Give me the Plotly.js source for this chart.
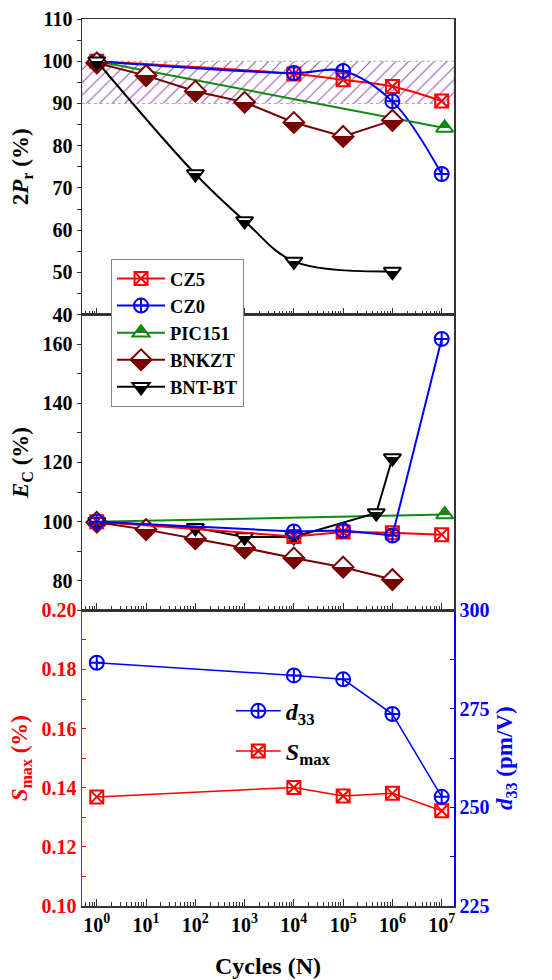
<!DOCTYPE html>
<html><head><meta charset="utf-8">
<script src="https://cdn.plot.ly/plotly-3.0.1.min.js"></script>
<style>html,body{margin:0;padding:0;background:#fff}</style>
</head><body><div id="chart" style="width:552px;height:980px"></div>
<script>
// ---- data ----
const cycles = [1, 1e4, 1e5, 1e6, 1e7];
const cyclesBNKZT = [1, 10, 100, 1e3, 1e4, 1e5, 1e6];
const cyclesBNTPr = [1, 100, 1e3, 1e4, 1e6];
const cyclesBNTEc = [1, 100, 1e3, 1e4, 4.7e5, 1e6];
const cyclesPIC = [1, 1.15e7];

const prCZ5 = [100, 97.0, 95.6, 94.0, 90.6];
const prCZ0 = [100, 97.2, 97.7, 90.5, 73.3];
const prPIC = [100, 84.2];
const prBNKZT = [99.6, 96.6, 92.9, 90.3, 85.5, 82.2, 86.0];
const prBNT = [100, 73.3, 62.2, 52.6, 50.2];

const ecCZ5 = [100, 95.0, 96.5, 96.2, 95.6];
const ecCZ0 = [100, 96.7, 97.0, 95.3, 161.8];
const ecPIC = [100, 102.4];
const ecBNKZT = [99.8, 97.3, 94.2, 91.1, 87.7, 84.6, 80.4];
const ecBNT = [100, 97.9, 94.8, 94.8, 102.9, 121.5];

const smax = [0.1369, 0.1401, 0.1372, 0.1381, 0.1322];
const d33 = [286.7, 283.5, 282.5, 273.7, 252.7];

const bandPr = [90, 100];
const xRange = [-0.3, 7.25];
const xTickVals = [1, 10, 100, 1e3, 1e4, 1e5, 1e6, 1e7];
const xTickText = ['10<sup>0</sup>','10<sup>1</sup>','10<sup>2</sup>','10<sup>3</sup>','10<sup>4</sup>','10<sup>5</sup>','10<sup>6</sup>','10<sup>7</sup>'];
const minorVals = [];
for (let e = -1; e <= 7; e++) for (let m = 2; m <= 9; m++) minorVals.push(m * Math.pow(10, e));

// ---- styles ----
const RED = '#ff0000', BLUE = '#0000ff', GREEN = '#108a10', DRED = '#7a0000', BLK = '#000000';
const FONTFAM = 'Liberation Serif';
const MS = 13;
const mk = {
  CZ5: {symbol:'square-x-open', size:MS, color:RED, line:{width:2, color:RED}},
  CZ0: {symbol:'circle-cross-open', size:MS+1, color:BLUE, line:{width:2, color:BLUE}},
  PIC: {symbol:'triangle-up', size:MS+2, color:GREEN, gradient:{type:'vertical', color:'white'}, line:{width:2, color:GREEN}},
  BNK: {symbol:'diamond', size:MS+3, color:'white', gradient:{type:'vertical', color:DRED}, line:{width:2, color:DRED}},
  BNT: {symbol:'triangle-down', size:MS+2, color:'white', gradient:{type:'vertical', color:BLK}, line:{width:2, color:BLK}}
};
// fraction of the marker height (from its top) painted with the top colour
const halfSplit = {green:[GREEN, 'top', 0.7], dred:[DRED, 'bottom', 0.47], black:[BLK, 'bottom', 0.28]};

const traces = [];
traces.push({
  x:[Math.pow(10,xRange[0]), Math.pow(10,xRange[1]), Math.pow(10,xRange[1]), Math.pow(10,xRange[0]), Math.pow(10,xRange[0])],
  y:[bandPr[0], bandPr[0], bandPr[1], bandPr[1], bandPr[0]],
  xaxis:'x3', yaxis:'y3', mode:'lines', fill:'toself',
  fillcolor:'rgba(0,0,0,0)',
  fillpattern:{shape:'/', fgcolor:'#9a50b8', bgcolor:'rgba(255,255,255,0)', size:9, solidity:0.12},
  line:{color:'#aaa', width:1, dash:'dot'}, showlegend:false, hoverinfo:'skip'
});
traces.push({x:cycles, y:prCZ5, name:'CZ5', xaxis:'x3', yaxis:'y3', mode:'lines+markers', line:{color:RED, width:2, shape:'spline'}, marker:mk.CZ5});
traces.push({x:cycles, y:prCZ0, name:'CZ0', xaxis:'x3', yaxis:'y3', mode:'lines+markers', line:{color:BLUE, width:2, shape:'spline'}, marker:mk.CZ0});
traces.push({x:cyclesPIC, y:prPIC, name:'PIC151', xaxis:'x3', yaxis:'y3', mode:'lines+markers', line:{color:GREEN, width:2}, marker:mk.PIC});
traces.push({x:cyclesBNKZT, y:prBNKZT, name:'BNKZT', xaxis:'x3', yaxis:'y3', mode:'lines+markers', line:{color:DRED, width:2}, marker:mk.BNK});
traces.push({x:cyclesBNTPr, y:prBNT, name:'BNT-BT', xaxis:'x3', yaxis:'y3', mode:'lines+markers', line:{color:BLK, width:2, shape:'spline'}, marker:mk.BNT});
traces.push({x:cyclesPIC, y:ecPIC, xaxis:'x2', yaxis:'y2', mode:'lines+markers', line:{color:GREEN, width:2}, marker:mk.PIC, showlegend:false});
traces.push({x:cyclesBNKZT, y:ecBNKZT, xaxis:'x2', yaxis:'y2', mode:'lines+markers', line:{color:DRED, width:2}, marker:mk.BNK, showlegend:false});
traces.push({x:cyclesBNTEc, y:ecBNT, xaxis:'x2', yaxis:'y2', mode:'lines+markers', line:{color:BLK, width:2}, marker:mk.BNT, showlegend:false});
traces.push({x:cycles, y:ecCZ5, xaxis:'x2', yaxis:'y2', mode:'lines+markers', line:{color:RED, width:2}, marker:mk.CZ5, showlegend:false});
traces.push({x:cycles, y:ecCZ0, xaxis:'x2', yaxis:'y2', mode:'lines+markers', line:{color:BLUE, width:2}, marker:mk.CZ0, showlegend:false});
traces.push({x:cycles, y:d33, name:'<i>d</i><sub>33</sub>', xaxis:'x', yaxis:'y4', mode:'lines+markers', line:{color:BLUE, width:1.5}, marker:mk.CZ0, legend:'legend2', legendgroup:'a'});
traces.push({x:cycles, y:smax, name:'<i>S</i><sub>max</sub>', xaxis:'x', yaxis:'y', mode:'lines+markers', line:{color:RED, width:1.5}, marker:mk.CZ5, legend:'legend2', legendgroup:'b'});

const FRAME = '#333';
function xax(anchor, labels, title) {
  return {
    type:'log', range:xRange, domain:[0,1], anchor:anchor,
    showline:true, linecolor:FRAME, linewidth:1.5, mirror:true,
    ticks:'inside', ticklen:7, tickcolor:FRAME, tickwidth:1,
    tickmode:'array', tickvals:xTickVals, ticktext:xTickText,
    showticklabels:labels, tickfont:{size:20, family:FONTFAM, color:'black', weight:'bold'},
    minor:{tickmode:'array', tickvals:minorVals, ticks:'inside', ticklen:4, tickcolor:FRAME, showgrid:false},
    showgrid:false, zeroline:false,
    title: title ? {text:title, font:{size:24, family:FONTFAM, color:'black', weight:'bold'}, standoff:22} : {text:''}
  };
}
function yax(domain, range, dtick, mdtick, col, tcol, title, extra) {
  return Object.assign({
    domain:domain, range:range, dtick:dtick, tick0:0,
    showline:true, linecolor:col, linewidth:1.5,
    ticks:'outside', ticklen:4, tickcolor:col,
    tickfont:{size:20, family:FONTFAM, color:tcol, weight:'bold'},
    minor:{dtick:mdtick, ticks:'outside', ticklen:4, tickcolor:col, showgrid:false},
    showgrid:false, zeroline:false,
    title:{text:title, font:{size:23, family:FONTFAM, color:tcol, weight:'bold'}, standoff:7}
  }, extra || {});
}

const layout = {
  width:552, height:980,
  margin:{l:82, r:98, t:19, b:74},
  paper_bgcolor:'white', plot_bgcolor:'white',
  font:{family:FONTFAM, size:19, color:'black', weight:'bold'},
  xaxis: xax('y', true, 'Cycles (N)'),
  xaxis2: xax('y2', false, ''),
  xaxis3: xax('y3', false, ''),
  yaxis3: yax([2/3, 1], [40, 110], 10, 5, FRAME, 'black', '2<i>P</i><sub>r</sub> (%)', {anchor:'x3', mirror:true}),
  yaxis2: yax([1/3, 2/3], [70, 170], 20, 10, FRAME, 'black', '<i>E</i><sub>C</sub> (%)', {anchor:'x2', mirror:true}),
  yaxis: yax([0, 1/3], [0.10, 0.20], 0.02, 0.01, RED, RED, '<i>S</i><sub>max</sub> (%)', {anchor:'x', tickformat:'.2f', ticks:'inside', minor:{dtick:0.01, ticks:'inside', ticklen:4, tickcolor:RED, showgrid:false}}),
  yaxis4: yax([0, 1/3], [225, 300], 25, 12.5, BLUE, BLUE, '<i>d</i><sub>33</sub> (pm/V)', {anchor:'x', overlaying:'y', side:'right', ticks:'inside', minor:{dtick:12.5, ticks:'inside', ticklen:4, tickcolor:BLUE, showgrid:false}}),
  legend:{x:0.078, y:0.7294, xanchor:'left', yanchor:'top', bgcolor:'white', bordercolor:'#888', borderwidth:1,
    font:{size:18.5, family:FONTFAM, color:'black', weight:'bold'}, itemwidth:48, tracegroupgap:0, traceorder:'normal'},
  legend2:{x:0.40, y:0.245, xanchor:'left', yanchor:'top', bgcolor:'rgba(0,0,0,0)', borderwidth:0,
    font:{size:24, family:FONTFAM, color:'black', weight:'bold'}, itemwidth:45, tracegroupgap:6, traceorder:'grouped'}
};

function sharpenHalfMarkers() {
  const norm = c => { const d = document.createElement('div'); d.style.color = c; document.body.appendChild(d); const r = getComputedStyle(d).color; d.remove(); return r.replace(/\s/g,''); };
  const W = norm('white');
  const table = Object.values(halfSplit).map(([c, where, f]) => [norm(c), where, f]);
  document.querySelectorAll('linearGradient').forEach(g => {
    const stops = g.querySelectorAll('stop');
    if (stops.length < 2) return;
    const cols = Array.from(stops).map(s => norm(s.getAttribute('stop-color') || s.style.stopColor));
    const other = cols.find(c => c !== W);
    const entry = table.find(t => t[0] === other);
    if (!entry) return;
    const [col, where, f] = entry;
    const topC = where === 'top' ? col : W, botC = where === 'top' ? W : col;
    g.setAttribute('gradientUnits', 'objectBoundingBox');
    g.setAttribute('x1', '0'); g.setAttribute('x2', '0'); g.setAttribute('y1', '0'); g.setAttribute('y2', '1');
    g.removeAttribute('gradientTransform');
    while (g.firstChild) g.removeChild(g.firstChild);
    [[0, topC], [f, topC], [f, botC], [1, botC]].forEach(([o, c]) => {
      const s = document.createElementNS('http://www.w3.org/2000/svg', 'stop');
      s.setAttribute('offset', (o * 100) + '%'); s.setAttribute('stop-color', c); s.setAttribute('stop-opacity', '1');
      g.appendChild(s);
    });
  });
}

Plotly.newPlot('chart', traces, layout, {displayModeBar:false, staticPlot:true}).then(sharpenHalfMarkers);
</script>
</body></html>
